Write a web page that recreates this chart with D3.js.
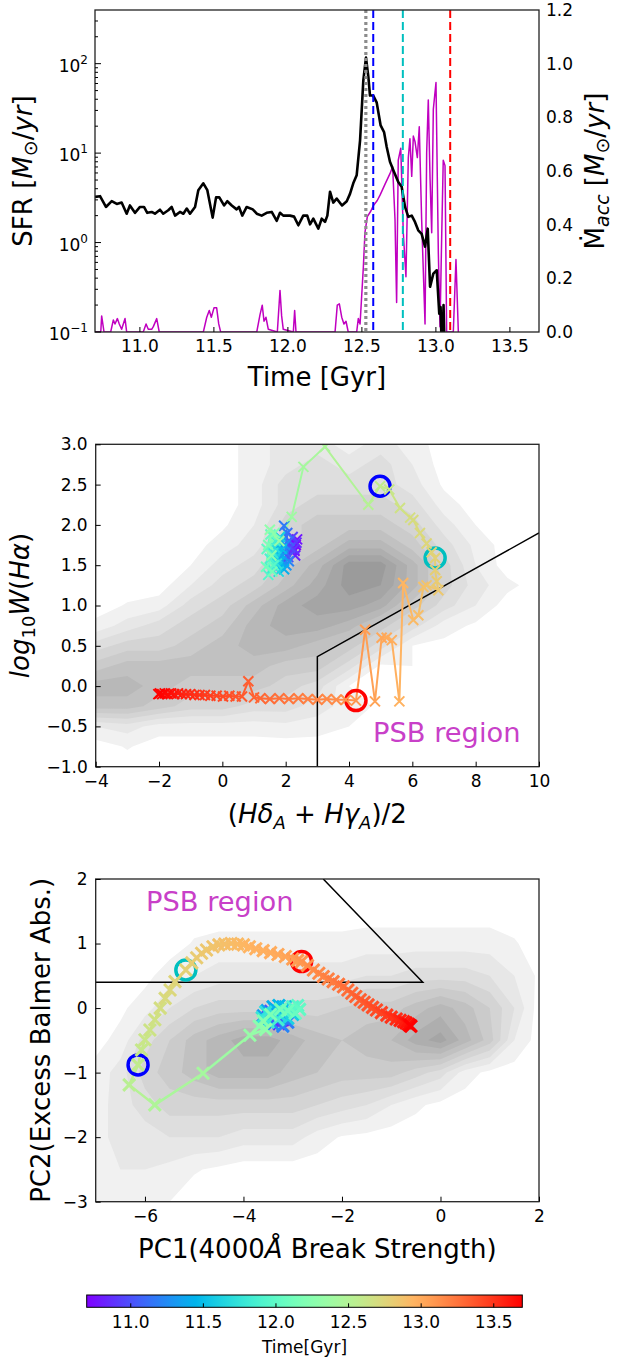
<!DOCTYPE html>
<html><head><meta charset="utf-8">
<script src="https://cdn.jsdelivr.net/npm/d3@7"></script>
<style>body{margin:0;background:#fff} svg{display:block} text{font-family:"DejaVu Sans",sans-serif;fill:#000}</style>
</head><body><svg id="c" width="617" height="1360"></svg>
<script>
// ---------------- DATA ----------------
// top panel: star formation rate (log, left) and accretion rate (linear, right)
const sfrTime = [10.700,10.734,10.774,10.813,10.847,10.880,10.914,10.936,10.970,11.004,11.031,11.053,11.083,11.105,11.139,11.161,11.195,11.218,11.241,11.274,11.297,11.320,11.342,11.376,11.398,11.432,11.459,11.495,11.518,11.540,11.572,11.594,11.624,11.657,11.673,11.695,11.725,11.766,11.793,11.826,11.860,11.894,11.928,11.950,11.972,11.995,12.018,12.045,12.074,12.107,12.134,12.153,12.175,12.209,12.232,12.254,12.270,12.288,12.310,12.333,12.369,12.401,12.423,12.445,12.468,12.491,12.513,12.531,12.547,12.558,12.580,12.603,12.630,12.653,12.671,12.693,12.720,12.749,12.772,12.795,12.817,12.840,12.862,12.884,12.907,12.930,12.948,12.964,12.986,13.009,13.026,13.035,13.045,13.055,13.065];
const sfrValue = [3.24,3.3,2.5,2.9,2.7,2.8,2.1,2.6,2.15,2.5,2.5,2.15,2.2,2.1,2.33,2.1,2.3,2.5,2.0,2.2,2.1,2.4,2.1,2.5,3.85,4.6,3.85,1.9,3.2,3.2,2.6,2.9,2.6,2.35,2.5,2.0,2.5,2.35,2.1,2.0,2.15,2.2,1.75,2.15,2.0,2.0,2.0,1.95,1.56,2.0,2.0,1.6,1.85,1.43,1.85,1.7,2.0,3.7,2.8,3.1,2.6,2.9,3.5,4.6,5.65,13.9,65,117,71,44,44,37,20.4,17.2,11.7,8.0,6.2,4.75,4.2,2.5,1.94,2.0,1.7,1.37,1.25,0.9,1.43,0.32,0.45,0.49,0.16,0.19,0.05,0.2,0.04];
const accTime = [10.700,10.739,10.745,10.761,10.806,10.824,10.835,10.851,10.864,10.880,10.903,10.914,11.026,11.045,11.060,11.083,11.094,11.117,11.134,11.432,11.455,11.472,11.486,11.504,11.522,11.536,11.549,11.793,11.815,11.830,11.842,11.855,11.871,11.932,11.950,11.961,11.972,12.040,12.049,12.058,12.322,12.337,12.351,12.367,12.382,12.396,12.411,12.468,12.479,12.491,12.513,12.524,12.540,12.563,12.580,12.607,12.626,12.659,12.693,12.711,12.727,12.738,12.749,12.766,12.783,12.801,12.817,12.828,12.840,12.851,12.862,12.878,12.891,12.907,12.930,12.941,12.952,12.964,12.975,12.986,13.004,13.020,13.031,13.043,13.053,13.065,13.076,13.121,13.139,13.155];
const accValue = [0,0,0.06,0,0,0.045,0.03,0.05,0.03,0.01,0.05,0,0,0.03,0.01,0.01,0.02,0.05,0,0,0.055,0.08,0.055,0.09,0.09,0.03,0,0,0.065,0.1,0.04,0.055,0.01,0,0.155,0.06,0.01,0,0.08,0,0,0.1,0.105,0.055,0.03,0.04,0,0,0.05,0.03,0.24,0.37,0.43,0.45,0.47,0.49,0.51,0.55,0.59,0.616,0.42,0.11,0.64,0.685,0.37,0.206,0.65,0.72,0.58,0.73,0.71,0.65,0.765,0.42,0.03,0.67,0.865,0.57,0.37,0.83,0.93,0.29,0.02,0.37,0.64,0.62,0,0,0.27,0];
const starburstTime = 12.53;
const eventTimes = [12.58, 12.78, 13.10];
const eventColors = ["#0000ff", "#00bfbf", "#ff0000"];
const topXTicks = [11.0, 11.5, 12.0, 12.5, 13.0, 13.5];
const topLogTicks = [0.1, 1, 10, 100];
const topLogExp = ["\u22121", "0", "1", "2"];
const topRightTicks = [0, 0.2, 0.4, 0.6, 0.8, 1.0, 1.2];

// middle panel: Hdelta/Hgamma vs log W(Halpha) trajectory
const hdTime = [10.70,10.74,10.78,10.82,10.86,10.90,10.94,10.98,11.02,11.06,11.10,11.14,11.18,11.22,11.26,11.30,11.34,11.38,11.42,11.46,11.50,11.54,11.58,11.62,11.66,11.70,11.74,11.78,11.82,11.86,11.90,11.94,11.98,12.02,12.06,12.10,12.14,12.18,12.22,12.26,12.30,12.34,12.38,12.42,12.46,12.52,12.58,12.62,12.66,12.69,12.71,12.73,12.75,12.77,12.78,12.80,12.82,12.84,12.86,12.88,12.90,12.92,12.94,12.96,12.98,13.00,13.02,13.04,13.06,13.10,13.12,13.14,13.16,13.18,13.20,13.22,13.24,13.26,13.28,13.30,13.32,13.34,13.36,13.38,13.40,13.42,13.44,13.46,13.48,13.50,13.52,13.54,13.56,13.58,13.60,13.62,13.64,13.66,13.67,13.68,13.69,13.70];
const hdX = [2.32,2.28,2.36,2.30,2.34,2.26,2.22,2.15,2.08,2.12,2.00,2.05,1.95,2.10,1.98,2.02,1.90,1.85,1.95,1.80,1.88,1.75,1.82,1.70,1.78,1.65,1.72,1.60,1.55,1.68,1.50,1.45,1.62,1.40,1.52,1.38,1.58,1.45,1.65,1.55,1.50,1.80,2.19,2.56,3.24,4.61,4.98,5.27,5.61,5.93,6.03,6.24,6.45,6.61,6.72,6.72,6.77,6.82,6.45,6.35,6.19,6.03,5.71,5.59,5.35,5.19,5.03,4.82,4.51,4.22,3.90,3.60,3.30,3.00,2.70,2.40,2.10,1.80,1.50,1.20,1.00,0.82,0.62,0.42,0.22,0.02,-0.18,-0.38,-0.55,-0.72,-0.88,-1.02,-1.15,-1.28,-1.40,-1.52,-1.62,-1.72,-1.82,-1.90,-1.97,-2.02];
const hdY = [1.75,1.68,1.82,1.62,1.78,1.70,1.85,1.72,1.60,1.80,1.66,1.90,1.99,1.55,1.75,1.50,1.62,1.78,1.45,1.55,1.70,1.48,1.85,1.60,1.42,1.72,1.52,1.65,1.45,1.80,1.58,1.38,1.50,1.70,1.88,1.48,1.42,1.75,1.90,1.62,1.94,1.80,2.10,2.72,2.97,2.25,2.48,2.44,2.21,2.09,2.06,1.90,1.77,1.66,1.59,1.44,1.30,1.19,1.25,1.23,0.88,0.82,1.28,-0.19,0.57,0.60,0.60,-0.19,0.70,-0.18,-0.17,-0.17,-0.16,-0.17,-0.16,-0.15,-0.16,-0.15,-0.16,-0.15,-0.14,0.06,-0.13,-0.13,-0.12,-0.13,-0.12,-0.12,-0.11,-0.11,-0.11,-0.10,-0.10,-0.10,-0.09,-0.10,-0.09,-0.10,-0.09,-0.10,-0.09,-0.10];
const hdXTicks = [-4, -2, 0, 2, 4, 6, 8, 10];
const hdYTicks = [-1.0, -0.5, 0.0, 0.5, 1.0, 1.5, 2.0, 2.5, 3.0];
const hdPsbX = [3, 3, 10];
const hdPsbY = [-1, 0.365, 1.9];
// background sample density (grey contours), rows from top (y=3) to bottom (y=-1)
const hdGridX = [-4,-3,-2,-1,0,1,2,3,4,5,6,7,8,9,10];
const hdGridY = [3,2.75,2.5,2.25,2,1.75,1.5,1.25,1,0.75,0.5,0.25,0,-0.25,-0.5,-0.75,-1];
const hdDensity = [
 [0,0,0,0,0,1,2,2,1,2,1,0,0,0,0],
 [0,0,0,0,0,1,2,3,2,3,1.5,0,0,0,0],
 [0,0,0,0,0,1,3,3,3,3,2,0.3,0,0,0],
 [0,0,0,0,0,1,3,4,4,4,3,1,0,0,0],
 [0,0,0,0,0.3,1.5,4,5,5,5,4,2,0.5,0,0],
 [0,0,0,0,1,2,4,5,7,7,5,3,1.2,0,0],
 [0,0,0,0.5,2,3,5,7,10,10,7,4,1.5,0,0],
 [0,0,0,1.5,3,4,6,8,10,9.5,7,4,2,0.8,0],
 [0,0.6,1,3,4,6,8,9,9,8,5,3,1.5,0,0],
 [0.8,2,3,4,5,7,8,8,7,5,3,1,0.3,0,0],
 [3,4,4,5,6,7,7,6,5,3,0.5,0.2,0,0,0],
 [5,6,6,6,6,6,5,5,3,0.3,0.5,0,0,0,0],
 [7,7,6,5,5,5,4,3,0.5,0.3,0,0,0,0,0],
 [6,6,5,4,4,3,3,2,1,0.3,0,0,0,0,0],
 [1.5,2,1,1,1,1,1.2,1,0.5,0,0,0,0,0,0],
 [0,0.6,0,0,0,0,0,0,0,0,0,0,0,0,0],
 [0,0,0,0,0,0,0,0,0,0,0,0,0,0,0]
];

// bottom panel: PC1 vs PC2 trajectory
const pcTime = [10.70,10.74,10.78,10.82,10.86,10.90,10.94,10.98,11.02,11.06,11.10,11.14,11.18,11.22,11.26,11.30,11.34,11.38,11.42,11.46,11.50,11.54,11.58,11.62,11.66,11.70,11.74,11.78,11.82,11.86,11.90,11.94,11.98,12.02,12.06,12.10,12.14,12.18,12.22,12.26,12.30,12.34,12.42,12.48,12.54,12.58,12.61,12.63,12.65,12.67,12.69,12.72,12.74,12.76,12.78,12.80,12.815,12.83,12.845,12.86,12.875,12.89,12.905,12.92,12.935,12.95,12.965,12.98,12.995,13.01,13.03,13.05,13.075,13.10,13.12,13.14,13.16,13.18,13.20,13.22,13.24,13.26,13.28,13.30,13.32,13.34,13.36,13.38,13.40,13.42,13.45,13.48,13.51,13.54,13.57,13.60,13.63,13.66,13.68,13.70];
const pc1 = [-3.30,-3.25,-3.35,-3.20,-3.28,-3.38,-3.42,-3.50,-3.45,-3.35,-3.22,-3.15,-3.10,-3.20,-3.40,-3.55,-3.60,-3.52,-3.40,-3.28,-3.15,-3.05,-3.00,-3.10,-3.25,-3.40,-3.55,-3.62,-3.50,-3.30,-3.15,-3.00,-2.90,-2.86,-2.95,-3.10,-3.25,-3.45,-3.60,-3.68,-3.55,-3.87,-4.82,-5.80,-6.32,-6.14,-6.07,-6.00,-5.90,-5.80,-5.69,-5.59,-5.49,-5.39,-5.17,-5.05,-4.95,-4.85,-4.75,-4.62,-4.50,-4.38,-4.25,-4.12,-4.00,-3.88,-3.75,-3.60,-3.45,-3.30,-3.15,-3.00,-2.90,-2.82,-2.70,-2.58,-2.47,-2.38,-2.28,-2.18,-2.07,-1.97,-1.88,-1.80,-1.72,-1.63,-1.55,-1.47,-1.38,-1.30,-1.20,-1.09,-1.00,-0.90,-0.82,-0.75,-0.70,-0.65,-0.62,-0.60];
const pc2 = [-0.15,-0.20,-0.12,-0.18,-0.24,-0.18,-0.10,-0.14,-0.05,-0.02,-0.08,-0.14,-0.22,-0.28,-0.25,-0.20,-0.12,-0.04,0.02,0.04,0.02,-0.04,-0.10,-0.16,-0.12,-0.08,-0.06,-0.15,-0.22,-0.18,-0.06,0.02,0.04,-0.02,-0.08,-0.04,-0.02,-0.10,-0.20,-0.28,-0.33,-0.42,-1.01,-1.50,-1.19,-0.88,-0.65,-0.49,-0.34,-0.18,0.00,0.15,0.28,0.41,0.59,0.70,0.78,0.85,0.90,0.95,0.98,0.99,1.00,0.99,0.98,0.95,0.92,0.89,0.86,0.83,0.80,0.76,0.74,0.72,0.66,0.59,0.54,0.49,0.45,0.41,0.37,0.33,0.28,0.23,0.18,0.13,0.09,0.05,0.01,-0.03,-0.07,-0.11,-0.14,-0.17,-0.19,-0.21,-0.23,-0.25,-0.27,-0.28];
const pcXTicks = [-6, -4, -2, 0, 2];
const pcYTicks = [-3, -2, -1, 0, 1, 2];
const pcPsbX = [-7, -0.36, -2.38];
const pcPsbY = [0.4, 0.4, 2.0];
const pcGridX = [-7,-6.5,-6,-5.5,-5,-4.5,-4,-3.5,-3,-2.5,-2,-1.5,-1,-0.5,0,0.5,1,1.5,2];
const pcGridY = [2,1.5,1,0.5,0,-0.5,-1,-1.5,-2,-2.5,-3];
const pcDensity = [
 [0,0,0,0,0,0,0,0,0,0,0,0,0,0,0,0,0,0,0],
 [0,0,0,0,0,0,0,0,0,0,0,0,0,0,0,0,0,0,0],
 [0,0,0,0,0.6,0.8,0.8,0.8,0.8,0.8,0.8,1,1,1,1,1,1,0.6,0],
 [0,0,0.2,1,1.5,2,2,2,2,2,2,2.5,2.5,3,3,3,2.5,1.5,0.3],
 [0,0.3,1,2.5,3.5,4,4,4,4,4,4.5,5,5,6,7,6,4.5,2.5,0],
 [0.2,0.8,3,4.5,6,7,8,8,7,6,5.5,6,6.5,8,9,7,5,1.5,0],
 [0.8,2,4,5,6,7,7,7,6,5.5,5,5,5,4,3,1,0.2,0,0],
 [1,2,3,4,4,4,4,4,4,3.5,3,2.5,1.5,0.7,0.2,0,0,0,0],
 [1,2,2,2.5,2.5,2.5,2,2,2,1,0.4,0.2,0,0,0,0,0,0,0],
 [1,1.5,1.5,1.2,0.6,0.3,0,0,0,0,0,0,0,0,0,0,0,0,0],
 [0.6,0.7,0.6,0.5,0,0,0,0,0,0,0,0,0,0,0,0,0,0,0]
];
const cbarTicks = [11.0, 11.5, 12.0, 12.5, 13.0, 13.5];
const timeDomain = [10.7, 13.7];

// ---------------- DRAWING ----------------
const svg = d3.select('#c');
const FS = 17, LFS = 26, PSBFS = 27.3;
function rainbowInterp(u){
  u = Math.max(0, Math.min(1, u));
  const r = Math.min(1, Math.abs(2*u - 0.5)), g = Math.sin(Math.PI*u), b = Math.max(0, Math.cos(Math.PI*u/2));
  return d3.rgb(r*255, g*255, b*255).formatHex();
}
const cmap = d3.scaleSequential(timeDomain, rainbowInterp).clamp(true);
const defs = svg.append('defs');
function clip(id, x0, y0, x1, y1){
  defs.append('clipPath').attr('id', id).append('rect').attr('x', x0).attr('y', y0).attr('width', x1-x0).attr('height', y1-y0);
}
function styleAxis(g){
  g.attr('font-size', FS).attr('font-family', 'DejaVu Sans');
  g.select('.domain').remove();
  g.selectAll('.tick line').attr('stroke', '#000').attr('stroke-width', 1);
  g.selectAll('.tick text').attr('fill', '#000');
}
function box(x0, y0, x1, y1){
  svg.append('rect').attr('x', x0).attr('y', y0).attr('width', x1-x0).attr('height', y1-y0)
    .attr('fill', 'none').attr('stroke', '#222').attr('stroke-width', 1.3);
}
function addParts(t, parts){
  parts.forEach(p => {
    const s = t.append('tspan').text(p.t);
    if (p.i) s.style('font-style', 'italic');
    if (p.dy) s.attr('dy', p.dy);
    if (p.fs) s.style('font-size', p.fs + 'px');
  });
}

// ===== TOP PANEL =====
const TL = 95, TR = 539, TT = 10, TB = 332;
const xT = d3.scaleLinear(timeDomain, [TL, TR]);
const yL = d3.scaleLog([0.1, Math.pow(10, 2.6)], [TB, TT]);
const yR = d3.scaleLinear([0, 1.2], [TB, TT]);
clip('clipT', TL, TT, TR, TB);
const gT = svg.append('g').attr('clip-path', 'url(#clipT)');
gT.append('path').datum(accTime.map((t, i) => [t, accValue[i]]))
  .attr('d', d3.line().x(d => xT(d[0])).y(d => yR(d[1])))
  .attr('fill', 'none').attr('stroke', '#c000c0').attr('stroke-width', 1.5).attr('stroke-linejoin', 'round');
gT.append('path').datum(sfrTime.map((t, i) => [t, sfrValue[i]]))
  .attr('d', d3.line().x(d => xT(d[0])).y(d => yL(Math.max(d[1], 0.01))))
  .attr('fill', 'none').attr('stroke', '#000').attr('stroke-width', 2.6).attr('stroke-linejoin', 'round');
gT.append('line').attr('x1', xT(starburstTime)).attr('x2', xT(starburstTime)).attr('y1', TT).attr('y2', TB)
  .attr('stroke', '#8c8c8c').attr('stroke-width', 3.2).attr('stroke-dasharray', '3,3');
eventTimes.forEach((t, i) => {
  gT.append('line').attr('x1', xT(t)).attr('x2', xT(t)).attr('y1', TT).attr('y2', TB)
    .attr('stroke', eventColors[i]).attr('stroke-width', 2).attr('stroke-dasharray', '8,4');
});
box(TL, TT, TR, TB);
styleAxis(svg.append('g').attr('transform', `translate(0,${TB})`)
  .call(d3.axisBottom(xT).tickValues(topXTicks).tickSizeInner(-5).tickSizeOuter(0).tickPadding(8).tickFormat(d3.format('.1f'))));
styleAxis(svg.append('g').attr('transform', `translate(${TR},0)`)
  .call(d3.axisRight(yR).tickValues(topRightTicks).tickSizeInner(0).tickSizeOuter(0).tickPadding(7).tickFormat(d3.format('.1f'))));
// log ticks (left)
const logAll = yL.ticks();
svg.append('g').selectAll('line').data(logAll).join('line')
  .attr('x1', TL).attr('x2', d => TL + (topLogTicks.includes(d) ? 6 : 3))
  .attr('y1', d => yL(d)).attr('y2', d => yL(d)).attr('stroke', '#000').attr('stroke-width', 1);
topLogTicks.forEach((v, i) => {
  const t = svg.append('text').attr('x', TL - 7).attr('y', yL(v) + 8).attr('text-anchor', 'end').style('font-size', FS + 'px');
  addParts(t, [{t: '10'}, {t: topLogExp[i], dy: -8, fs: 12}]);
});
{
  const t = svg.append('text').attr('transform', `translate(32,${(TT+TB)/2}) rotate(-90)`).attr('text-anchor', 'middle').style('font-size', LFS + 'px');
  addParts(t, [{t: 'SFR ['}, {t: 'M', i: 1}, {t: '\u2299', dy: 5, fs: 19}, {t: '/', dy: -5}, {t: 'yr', i: 1}, {t: ']'}]);
  const r = svg.append('text').attr('transform', `translate(604,${(TT+TB)/2}) rotate(-90)`).attr('text-anchor', 'middle').style('font-size', LFS + 'px');
  addParts(r, [{t: '\u1E40'}, {t: 'acc', i: 1, dy: 5, fs: 19}, {t: ' [', dy: -5}, {t: 'M', i: 1}, {t: '\u2299', dy: 5, fs: 19}, {t: '/', dy: -5}, {t: 'yr', i: 1}, {t: ']'}]);
  svg.append('text').attr('x', (TL+TR)/2).attr('y', 386).attr('text-anchor', 'middle').style('font-size', LFS + 'px').text('Time [Gyr]');
}

// shared helpers for density + trajectory
function drawDensity(g, gx, gy, grid, xs, ys){
  const nx = gx.length, ny = gy.length;
  const sx = gx[1] - gx[0], sy = gy[1] - gy[0];
  const conts = d3.contours().size([nx, ny]).thresholds(d3.range(0.5, 10, 1))(grid.flat());
  const proj = d3.geoTransform({point(x, y){ this.stream.point(xs(gx[0] + (x - 0.5)*sx), ys(gy[0] + (y - 0.5)*sy)); }});
  const path = d3.geoPath(proj);
  const col = d3.scaleLinear([0.5, 9.5], ['#f1f1f1', '#9b9b9b']);
  g.selectAll('path.dens').data(conts).join('path').attr('class', 'dens').attr('d', path).attr('fill', d => col(d.value));
}
function drawTraj(g, T, X, Y, xs, ys, lw, ms, mw){
  const pts = T.map((t, i) => ({t, x: xs(X[i]), y: ys(Y[i])}));
  g.append('g').selectAll('line').data(d3.pairs(pts)).join('line')
    .attr('x1', d => d[0].x).attr('y1', d => d[0].y).attr('x2', d => d[1].x).attr('y2', d => d[1].y)
    .attr('stroke', d => cmap((d[0].t + d[1].t)/2)).attr('stroke-width', lw).attr('stroke-linecap', 'round');
  eventTimes.forEach((et, i) => {
    const k = T.indexOf(et);
    g.append('circle').attr('cx', pts[k].x).attr('cy', pts[k].y).attr('r', 10)
      .attr('fill', 'none').attr('stroke', eventColors[i]).attr('stroke-width', 3.5);
  });
  g.append('g').selectAll('path').data(pts).join('path')
    .attr('d', d => `M${d.x-ms},${d.y-ms}L${d.x+ms},${d.y+ms}M${d.x-ms},${d.y+ms}L${d.x+ms},${d.y-ms}`)
    .attr('stroke', d => cmap(d.t)).attr('stroke-width', mw).attr('fill', 'none');
}

// ===== MIDDLE PANEL =====
const ML = 95.7, MR = 539, MT = 444.3, MB = 766.7;
const xM = d3.scaleLinear([-4, 10], [ML, MR]);
const yM = d3.scaleLinear([-1, 3], [MB, MT]);
clip('clipM', ML, MT, MR, MB);
const gM = svg.append('g').attr('clip-path', 'url(#clipM)');
drawDensity(gM.append('g'), hdGridX, hdGridY, hdDensity, xM, yM);
gM.append('path').datum(hdPsbX.map((x, i) => [x, hdPsbY[i]]))
  .attr('d', d3.line().x(d => xM(d[0])).y(d => yM(d[1]))).attr('fill', 'none').attr('stroke', '#000').attr('stroke-width', 1.5);
drawTraj(gM.append('g'), hdTime, hdX, hdY, xM, yM, 2, 5, 2);
svg.append('text').attr('x', 373).attr('y', 742).style('font-size', PSBFS + 'px').style('fill', '#c840c8').text('PSB region');
box(ML, MT, MR, MB);
styleAxis(svg.append('g').attr('transform', `translate(0,${MB})`)
  .call(d3.axisBottom(xM).tickValues(hdXTicks).tickSizeInner(-5).tickSizeOuter(0).tickPadding(8).tickFormat(d3.format('d'))));
styleAxis(svg.append('g').attr('transform', `translate(${ML},0)`)
  .call(d3.axisLeft(yM).tickValues(hdYTicks).tickSizeInner(-5).tickSizeOuter(0).tickPadding(8).tickFormat(d3.format('.1f'))));
{
  const t = svg.append('text').attr('transform', `translate(29,${(MT+MB)/2}) rotate(-90)`).attr('text-anchor', 'middle').style('font-size', LFS + 'px');
  addParts(t, [{t: 'log', i: 1}, {t: '10', dy: 6, fs: 18}, {t: 'W', i: 1, dy: -6}, {t: '('}, {t: 'H\u03B1', i: 1}, {t: ')'}]);
  const b = svg.append('text').attr('x', (ML+MR)/2).attr('y', 823).attr('text-anchor', 'middle').style('font-size', LFS + 'px');
  addParts(b, [{t: '('}, {t: 'H\u03B4', i: 1}, {t: 'A', i: 1, dy: 6, fs: 18}, {t: ' + ', dy: -6}, {t: 'H\u03B3', i: 1}, {t: 'A', i: 1, dy: 6, fs: 18}, {t: ')/2', dy: -6}]);
}

// ===== BOTTOM PANEL =====
const BL = 95.7, BR = 539, BT = 879, BB = 1201.7;
const xB = d3.scaleLinear([-7, 2], [BL, BR]);
const yB = d3.scaleLinear([-3, 2], [BB, BT]);
clip('clipB', BL, BT, BR, BB);
const gB = svg.append('g').attr('clip-path', 'url(#clipB)');
drawDensity(gB.append('g'), pcGridX, pcGridY, pcDensity, xB, yB);
gB.append('path').datum(pcPsbX.map((x, i) => [x, pcPsbY[i]]))
  .attr('d', d3.line().x(d => xB(d[0])).y(d => yB(d[1]))).attr('fill', 'none').attr('stroke', '#000').attr('stroke-width', 1.5);
drawTraj(gB.append('g'), pcTime, pc1, pc2, xB, yB, 2.5, 6, 3);
svg.append('text').attr('x', 146).attr('y', 911).style('font-size', PSBFS + 'px').style('fill', '#c840c8').text('PSB region');
box(BL, BT, BR, BB);
styleAxis(svg.append('g').attr('transform', `translate(0,${BB})`)
  .call(d3.axisBottom(xB).tickValues(pcXTicks).tickSizeInner(-5).tickSizeOuter(0).tickPadding(8).tickFormat(d3.format('d'))));
styleAxis(svg.append('g').attr('transform', `translate(${BL},0)`)
  .call(d3.axisLeft(yB).tickValues(pcYTicks).tickSizeInner(-5).tickSizeOuter(0).tickPadding(8).tickFormat(d3.format('d'))));
{
  svg.append('text').attr('transform', `translate(50,${(BT+BB)/2}) rotate(-90)`).attr('text-anchor', 'middle').style('font-size', LFS + 'px').text('PC2(Excess Balmer Abs.)');
  const b = svg.append('text').attr('x', (BL+BR)/2).attr('y', 1258).attr('text-anchor', 'middle').style('font-size', LFS + 'px');
  addParts(b, [{t: 'PC1(4000'}, {t: '\u00C5', i: 1}, {t: ' Break Strength)'}]);
}

// ===== COLORBAR =====
const CL = 86.7, CR = 522.3, CT = 1295, CB = 1307.3;
const xC = d3.scaleLinear(timeDomain, [CL, CR]);
const grad = defs.append('linearGradient').attr('id', 'cbg').attr('x1', '0%').attr('x2', '100%');
d3.range(0, 1.0001, 0.025).forEach(u => grad.append('stop').attr('offset', (u*100) + '%').attr('stop-color', rainbowInterp(u)));
svg.append('rect').attr('x', CL).attr('y', CT).attr('width', CR-CL).attr('height', CB-CT).attr('fill', 'url(#cbg)').attr('stroke', '#000').attr('stroke-width', 1);
styleAxis(svg.append('g').attr('transform', `translate(0,${CB})`)
  .call(d3.axisBottom(xC).tickValues(cbarTicks).tickSizeInner(-4).tickSizeOuter(0).tickPadding(9).tickFormat(d3.format('.1f'))));
svg.append('text').attr('x', (CL+CR)/2).attr('y', 1353).attr('text-anchor', 'middle').style('font-size', FS + 'px').text('Time[Gyr]');
</script></body></html>
